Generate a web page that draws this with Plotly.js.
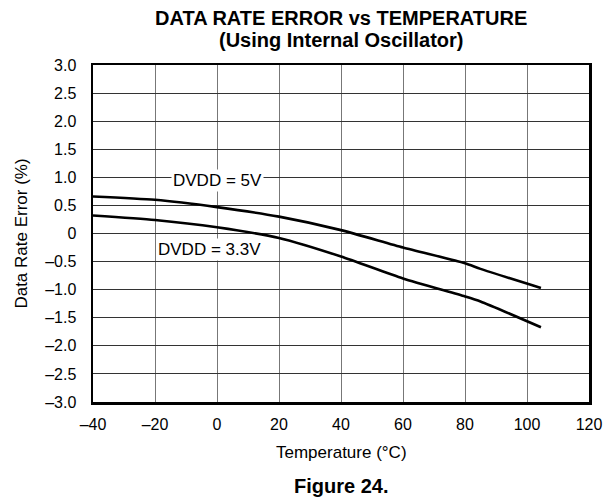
<!DOCTYPE html>
<html><head><meta charset="utf-8">
<script src="https://cdn.plot.ly/plotly-2.35.2.min.js"></script>
<style>html,body{margin:0;padding:0;background:#fff}#c{width:615px;height:502px}</style>
</head><body><div id="c"></div>
<script>
const temp5 = [-40, -20, 0, 20, 40, 60, 80, 85, 104.5];
const err5 = [0.66, 0.60, 0.47, 0.30, 0.06, -0.25, -0.53, -0.63, -0.97];
const temp33 = [-40, -20, 0, 20, 40, 60, 80, 85, 104.5];
const err33 = [0.32, 0.24, 0.11, -0.08, -0.41, -0.80, -1.12, -1.21, -1.67];
const xTicks = [-40, -20, 0, 20, 40, 60, 80, 100, 120];
const xTickText = ['–40', '–20', '0', '20', '40', '60', '80', '100', '120'];
const yTicks = [3, 2.5, 2, 1.5, 1, 0.5, 0, -0.5, -1, -1.5, -2, -2.5, -3];
const yTickText = ['3.0', '2.5', '2.0', '1.5', '1.0', '0.5', '0', '–0.5', '–1.0', '–1.5', '–2.0', '–2.5', '–3.0'];
const seriesLabels = ['DVDD = 5V', 'DVDD = 3.3V'];

const font = 'Liberation Sans, Arial, Helvetica, sans-serif';
const traces = [
  {x: temp5, y: err5, mode: 'lines', line: {color: '#000', width: 2.6, shape: 'spline', smoothing: 0.6}, hoverinfo: 'none'},
  {x: temp33, y: err33, mode: 'lines', line: {color: '#000', width: 2.6, shape: 'spline', smoothing: 0.6}, hoverinfo: 'none'}
];
const ann = (x, y, text, size, extra) => Object.assign({x: x, y: y, xref: 'paper', yref: 'paper', xanchor: 'center', yanchor: 'middle', text: text, showarrow: false, font: {size: size}}, extra || {});
const layout = {
  width: 615, height: 502,
  margin: {l: 93, r: 26, t: 65, b: 100},
  paper_bgcolor: '#fff', plot_bgcolor: '#fff',
  showlegend: false,
  font: {family: font, color: '#000', size: 16},
  xaxis: {range: [-40, 120], tickvals: xTicks, ticktext: xTickText, showgrid: true, gridcolor: '#777', gridwidth: 1,
    zeroline: false, showline: true, linecolor: '#000', linewidth: 2.5, mirror: true,
    ticks: 'outside', ticklen: 6, tickcolor: 'rgba(0,0,0,0)', tickfont: {size: 16}},
  yaxis: {range: [-3, 3], tickvals: yTicks, ticktext: yTickText, showgrid: true, gridcolor: '#333', gridwidth: 1,
    zeroline: false, showline: true, linecolor: '#000', linewidth: 2.5, mirror: true,
    ticks: 'outside', ticklen: 11, tickcolor: 'rgba(0,0,0,0)', tickfont: {size: 16}},
  annotations: [
    ann(0.5, 1.138, '<b>DATA RATE ERROR vs TEMPERATURE</b>', 20),
    ann(0.5, 1.074, '<b>(Using Internal Oscillator)</b>', 20),
    ann(0.5, -0.151, 'Temperature (°C)', 17),
    ann(-0.145, 0.5, 'Data Rate Error (%)', 17, {textangle: -90}),
    ann(0.5, -0.249, '<b>Figure 24.</b>', 20),
    {x: 0, y: 0.94, xref: 'x', yref: 'y', text: seriesLabels[0], showarrow: false, font: {size: 17}, bgcolor: '#fff'},
    {x: -2.3, y: -0.29, xref: 'x', yref: 'y', text: seriesLabels[1], showarrow: false, font: {size: 17}, bgcolor: '#fff'}
  ]
};
Plotly.newPlot('c', traces, layout, {staticPlot: true, displayModeBar: false});
</script></body></html>
